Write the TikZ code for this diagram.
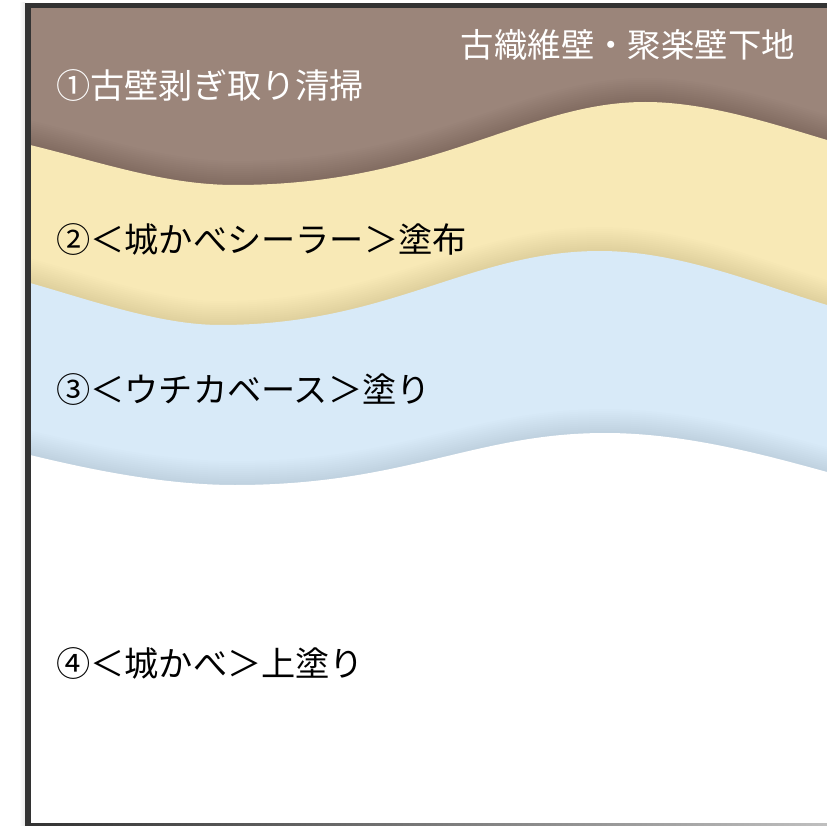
\documentclass[tikz,border=0pt]{standalone}
\usepackage{fontspec}
\newfontfamily\jp{Noto Sans CJK JP}
\definecolor{brownL}{HTML}{9B857A}
\definecolor{yellowL}{HTML}{F8E9B6}
\definecolor{blueL}{HTML}{D8EAF8}
\definecolor{frameC}{HTML}{333333}
\tikzset{
  lbl/.style={font=\jp\fontsize{34.2}{40}\selectfont, inner sep=0pt, anchor=west},
  toplbl/.style={font=\jp\fontsize{33.4}{40}\selectfont, inner sep=0pt, anchor=east, text=white},
  shadowstroke/.style={draw=black, draw opacity=0.012},
}
\newcommand\waveA{(-10,135) -- (30,145) .. controls (100,162) and (165,185) .. (235,185) .. controls (435,185) and (525,102) .. (645,102) .. controls (705,102) and (767,122) .. (827,140) -- (870,153)}
\newcommand\waveB{(-10,272) -- (30,283) .. controls (90,300) and (160,325) .. (220,325) .. controls (390,325) and (470,251) .. (600,251) .. controls (680,251) and (760,285) .. (827,305) -- (870,318)}
\newcommand\waveC{(-10,445) -- (30,455) .. controls (100,472) and (170,485) .. (235,485) .. controls (405,485) and (475,433) .. (605,433) .. controls (685,433) and (765,455) .. (827,472) -- (870,485)}
\begin{document}
\begin{tikzpicture}[x=1pt,y=-1pt]
\useasboundingbox (0,0) rectangle (827,826);
\fill[white] (0,0) rectangle (827,826);
% faint outer shadow
\shade[left color=white, right color=black!8] (19,3) rectangle (25,826);
\begin{scope}
  \clip (30,8) rectangle (827,823);
  \fill[brownL] (30,8) rectangle (827,823);
  \foreach \w in {4,8,...,48} \draw[shadowstroke, line width=\w pt, draw opacity=0.011] \waveA;
  \fill[yellowL] \waveA -- (870,900) -- (-10,900) -- cycle;
  \foreach \w in {4,8,...,48} \draw[shadowstroke, line width=\w pt, draw opacity=0.008] \waveB;
  \fill[blueL] \waveB -- (870,900) -- (-10,900) -- cycle;
  \foreach \w in {4,8,...,48} \draw[shadowstroke, line width=\w pt, draw opacity=0.008] \waveC;
  \fill[white] \waveC -- (870,900) -- (-10,900) -- cycle;
\end{scope}
% frame
\fill[frameC] (25,3) rectangle (827,8.3);
\fill[frameC] (25,3) rectangle (30.5,826);
\shade[left color=frameC, right color=black!25] (30.5,823.3) rectangle (827,826);
% labels
\node[lbl, text=white] (title) at (56,86) {①古壁剥ぎ取り清掃};
\node[toplbl] (base) at (795,45) {古織維壁・聚楽壁下地};
\node[lbl, text=black] (sealer) at (56,240) {②＜城かべシーラー＞塗布};
\node[lbl, text=black] (basecoat) at (56,390) {③＜ウチカベース＞塗り};
\node[lbl, text=black] (topcoat) at (56,663) {④＜城かべ＞上塗り};
\end{tikzpicture}
\end{document}
